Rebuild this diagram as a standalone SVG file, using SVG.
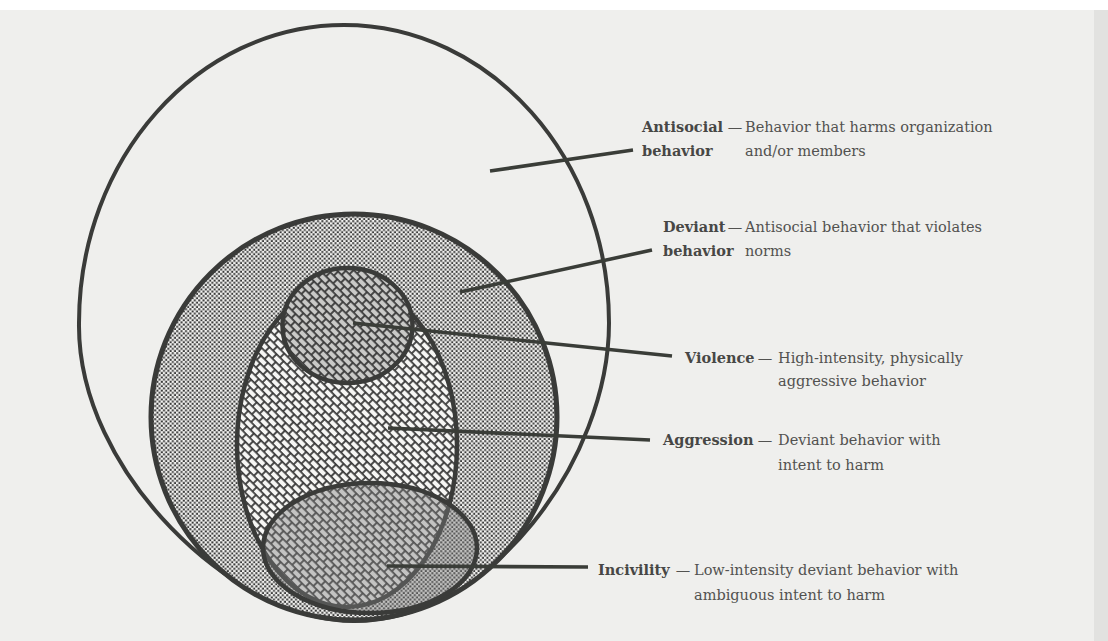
<svg xmlns="http://www.w3.org/2000/svg" width="1108" height="641" viewBox="0 0 1108 641">
<style>
.ol{fill:none;stroke:#3a3b39;stroke-linecap:round;stroke-linejoin:round}
.lbl{font-family:"DejaVu Serif","Liberation Serif",serif;font-size:14.5px;font-weight:bold;fill:#474745}
.txt{font-family:"DejaVu Serif","Liberation Serif",serif;font-size:14.5px;fill:#525250}
.dash{font-family:"DejaVu Serif","Liberation Serif",serif;font-size:14.5px;fill:#525250;text-anchor:middle}
.lead{stroke:#3a3d38;stroke-width:3.6;stroke-linecap:butt;fill:none}
</style>
<defs>
<pattern id="dots" width="4.4" height="4.4" patternUnits="userSpaceOnUse">
<rect width="4.4" height="4.4" fill="#f4f4f2"/>
<rect x="0.2" y="0.2" width="2" height="2" fill="#3a3a3a"/>
<rect x="2.4" y="2.4" width="2" height="2" fill="#3a3a3a"/>
</pattern>
<pattern id="scales" width="10" height="12" patternUnits="userSpaceOnUse" patternTransform="rotate(45)">
<rect width="10" height="12" fill="#f6f6f4"/>
<path d="M0,0.8 H10 M0,6.8 H10 M1,0.8 V6.8 M6,6.8 V12 M6,0 V0.8" stroke="#3a3a3a" stroke-width="1.8" fill="none"/>
</pattern>
<pattern id="scalesG" width="10" height="12" patternUnits="userSpaceOnUse" patternTransform="rotate(45)">
<rect width="10" height="12" fill="#c9c9c7"/>
<path d="M0,0.8 H10 M0,6.8 H10 M1,0.8 V6.8 M6,6.8 V12 M6,0 V0.8" stroke="#3a3a3a" stroke-width="1.8" fill="none"/>
</pattern>
</defs>
<rect width="1108" height="641" fill="#efefed"/>
<rect width="1108" height="10" fill="#ffffff"/>
<rect x="1094" y="10" width="14" height="631" fill="#e2e2e0"/>

<g id="antisocial">
<path class="ol" d="M344,25 C490.4,25 609,158.4 609,323 C609,460 490,621 354,621 C235,621 77,472 79,323 C79,158.4 197.6,25 344,25 Z" fill="#fafaf9" stroke-width="4"/>
<text class="lbl" x="642" y="132">Antisocial</text>
<text class="dash" x="735" y="132">—</text>
<text class="txt" x="745" y="132">Behavior that harms organization</text>
<text class="lbl" x="642" y="156">behavior</text>
<text class="txt" x="745" y="156">and/or members</text>
</g>

<g id="deviant">
<circle cx="354" cy="417" r="203" fill="url(#dots)"/>
<circle class="ol" cx="354" cy="417" r="203" stroke-width="5"/>
<text class="lbl" x="663" y="232">Deviant</text>
<text class="dash" x="735" y="232">—</text>
<text class="txt" x="745" y="232">Antisocial behavior that violates</text>
<text class="lbl" x="663" y="256">behavior</text>
<text class="txt" x="745" y="256">norms</text>
</g>

<g id="aggression">
<ellipse cx="347" cy="445" rx="110" ry="162" fill="url(#scales)"/>
<ellipse class="ol" cx="347" cy="445" rx="110" ry="162" stroke-width="4.5"/>
<text class="lbl" x="663" y="445">Aggression</text>
<text class="dash" x="765" y="445">—</text>
<text class="txt" x="778" y="445">Deviant behavior with</text>
<text class="txt" x="778" y="470">intent to harm</text>
</g>

<g id="violence">
<ellipse cx="347.5" cy="325.5" rx="65" ry="57.5" fill="url(#scalesG)"/>
<ellipse class="ol" cx="347.5" cy="325.5" rx="65" ry="57.5" stroke-width="4.5"/>
<text class="lbl" x="685" y="363">Violence</text>
<text class="dash" x="765" y="363">—</text>
<text class="txt" x="778" y="363">High-intensity, physically</text>
<text class="txt" x="778" y="386">aggressive behavior</text>
</g>

<g id="incivility">
<ellipse cx="370" cy="548" rx="107" ry="65" fill="#7d7d7b" fill-opacity="0.42"/>
<ellipse class="ol" cx="370" cy="548" rx="107" ry="65" stroke-width="4.5"/>
<text class="lbl" x="598" y="575">Incivility</text>
<text class="dash" x="683" y="575">—</text>
<text class="txt" x="694" y="575">Low-intensity deviant behavior with</text>
<text class="txt" x="694" y="600">ambiguous intent to harm</text>
</g>

<g id="connectors">
<line class="lead" x1="490" y1="171" x2="633" y2="150"/>
<line class="lead" x1="460" y1="292" x2="652" y2="250"/>
<line class="lead" x1="353" y1="323" x2="672" y2="356"/>
<line class="lead" x1="388" y1="428" x2="650" y2="440"/>
<line class="lead" x1="387" y1="566" x2="588" y2="567"/>
</g>
</svg>
